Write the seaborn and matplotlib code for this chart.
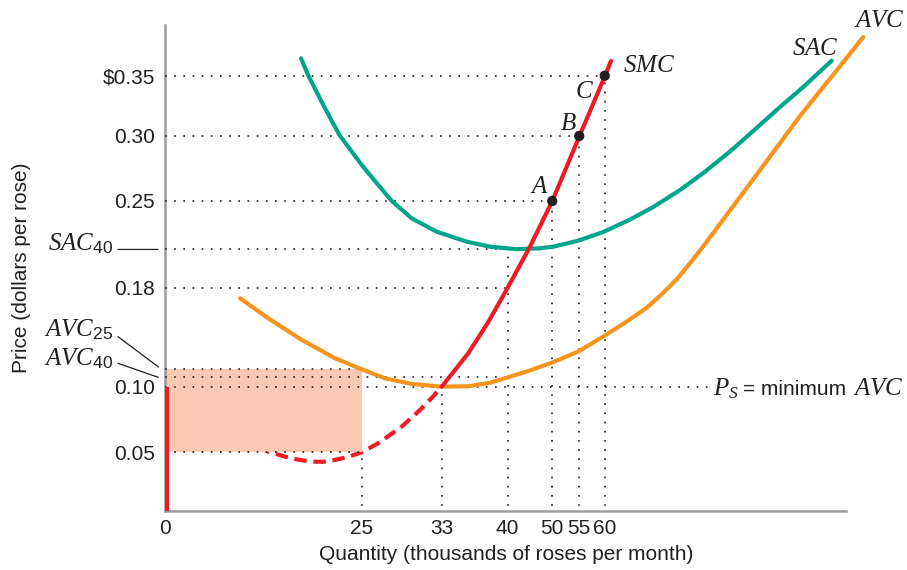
import matplotlib
matplotlib.use("Agg")
import matplotlib.pyplot as plt
import matplotlib.transforms as mtransforms
import seaborn as sns

# axis ticks (the textbook axis is stylized, so positions and labels differ)
q_pos = [0, 25.18, 35.4, 43.8, 49.5, 52.95, 56.2]
q_labels = ["0", "25", "33", "40", "50", "55", "60"]
p_pos = [0.05, 0.1023, 0.1809, 0.2502, 0.302, 0.35]
p_labels = ["0.05", "0.10", "0.18", "0.25", "0.30", r"\$0.35"]

# short-run average cost
sac_q = [17.43, 18.36, 20.27, 22.32, 25.18, 27.29, 29.01, 31.56, 34.75, 38.58, 41.55, 44.96,
         47.94, 49.64, 52.83, 56.02, 59.43, 62.40, 65.81, 68.79, 72.19, 75.17, 78.58, 81.55, 85.18]
sac_p = [0.3639, 0.3500, 0.3267, 0.3028, 0.2789, 0.2629, 0.2502, 0.2364, 0.2257, 0.2178, 0.2138, 0.2118,
         0.2125, 0.2138, 0.2186, 0.2255, 0.2354, 0.2454, 0.2589, 0.2725, 0.2896, 0.3060, 0.3251, 0.3410, 0.3620]

# average variable cost
avc_q = [9.64, 13.25, 17.52, 21.77, 25.18, 28.15, 31.56, 35.39, 38.78, 41.55, 43.85, 46.66, 49.34,
         52.79, 55.98, 58.79, 61.60, 63.51, 65.43, 67.22, 69.00, 72.62, 76.88, 81.13, 85.34, 89.21]
avc_p = [0.1727, 0.1567, 0.1395, 0.1249, 0.1161, 0.1089, 0.1044, 0.1023, 0.1026, 0.1054, 0.1097, 0.1152, 0.1211,
         0.1301, 0.1421, 0.1532, 0.1653, 0.1761, 0.1880, 0.2016, 0.2159, 0.2462, 0.2820, 0.3179, 0.3506, 0.3808]

# short-run marginal cost, below and above minimum AVC
smc_lo_q = [11.94, 13.25, 15.38, 17.04, 18.79, 20.24, 21.77, 23.43, 25.18, 27.29, 30.28, 32.84, 34.28, 35.39]
smc_lo_p = [0.0542, 0.0505, 0.0465, 0.0441, 0.0425, 0.0424, 0.0439, 0.0463, 0.0500, 0.0572, 0.0704, 0.0850, 0.0944, 0.1023]
smc_hi_q = [35.39, 37.09, 38.78, 41.34, 43.79, 46.66, 49.51, 52.96, 56.24, 57.00]
smc_hi_p = [0.1023, 0.1156, 0.1289, 0.1538, 0.1809, 0.2138, 0.2502, 0.3017, 0.3500, 0.3617]

# points A, B, C
pts_q = [49.5, 52.95, 56.2]
pts_p = [0.2502, 0.302, 0.35]
pts_names = ["A", "B", "C"]

# key levels
sac40 = 0.2116
avc25 = 0.1161
avc40 = 0.1097
p_s = 0.1023
q_shutdown = 0

# dotted guide lines
h_levels = [0.35, 0.302, 0.2502, sac40, 0.1809, avc25, avc40, p_s, 0.05]
h_ends = [56.2, 52.95, 49.5, 43.8, 43.8, 25.18, 43.8, 69.4, 25.18]
v_q = [25.18, 35.4, 43.8, 49.5, 52.95, 56.2]
v_tops = [0.05, p_s, sac40, 0.2502, 0.302, 0.35]

teal = "#00A68C"
orange = "#F7941D"
red = "#ED1C24"
shade = "#FAC8B2"
ink = "#231F20"

sns.set_style("white")
plt.rcParams["font.family"] = ["Liberation Sans", "DejaVu Sans"]
plt.rcParams["mathtext.fontset"] = "custom"
plt.rcParams["mathtext.it"] = "Liberation Serif:italic"
plt.rcParams["mathtext.rm"] = "Liberation Sans"

fig = plt.figure(figsize=(9.07, 5.70), dpi=100)
ax = fig.add_axes([0.1814, 0.1035, 0.7513, 0.8526])
ax.set_xlim(0, 87.0)
ax.set_ylim(0.0032, 0.3904)

# shaded area (loss) and guide lines
ax.fill_between([0, q_pos[1]], 0.05, avc25, color=shade, lw=0, zorder=2)
dots = (0, (1, 4.5))
ax.hlines(h_levels, 0, h_ends, colors=ink, linestyles=[dots], lw=1.2, zorder=3)
ax.vlines(v_q, 0, v_tops, colors=ink, linestyles=[dots], lw=1.2, zorder=3)

# curves
sns.lineplot(x=smc_lo_q, y=smc_lo_p, ax=ax, color=red, lw=3, dashes=(3, 1.6),
             sort=False, estimator=None, zorder=1.5)
sns.lineplot(x=sac_q, y=sac_p, ax=ax, color=teal, lw=3, sort=False, estimator=None, zorder=4)
sns.lineplot(x=avc_q, y=avc_p, ax=ax, color=orange, lw=3, sort=False, estimator=None,
             zorder=4, clip_on=False)
sns.lineplot(x=smc_hi_q, y=smc_hi_p, ax=ax, color=red, lw=3, sort=False, estimator=None, zorder=4.5)
for line in ax.get_lines():
    line.set_solid_joinstyle("round")
shift = mtransforms.offset_copy(ax.transData, fig=fig, x=2.5, y=0, units="dots")
ax.vlines(q_shutdown, 0, p_s, colors=red, lw=3, transform=shift, zorder=4.5)
sns.scatterplot(x=pts_q, y=pts_p, ax=ax, color=ink, s=55, edgecolor="none", zorder=5)

# curve labels
lab = dict(textcoords="offset pixels", va="baseline", fontsize=18, color=ink,
           annotation_clip=False)
for name, q, p, dx, dy in zip(pts_names, pts_q, pts_p, [-13, -11, -20], [8, 6.3, -22.6]):
    ax.annotate(f"${name}$", xy=(q, p), xytext=(dx, dy), ha="center", **lab)
ax.annotate("$SMC$", xy=(smc_hi_q[-1], smc_hi_p[-1]), xytext=(12, -11), ha="left", **lab)
ax.annotate("$SAC$", xy=(sac_q[-1], sac_p[-1]), xytext=(-16, 5.5), ha="center", **lab)
ax.annotate("$AVC$", xy=(avc_q[-1], avc_p[-1]), xytext=(16, 10), ha="center", **lab)
ax.annotate("$P_S$", xy=(h_ends[7], p_s), xytext=(5, -8.3), ha="left", **lab)
ax.annotate("= minimum", xy=(h_ends[7], p_s), xytext=(35, -8.3), ha="left",
            textcoords="offset pixels", va="baseline", fontsize=15, color=ink,
            annotation_clip=False)
ax.annotate("$AVC$", xy=(h_ends[7], p_s), xytext=(145, -8.3), ha="left", **lab)

# labels left of the price axis, with leader lines
def leader(level, x0, y0, x1, y1):
    ax.annotate("", xy=(0, level),
                xycoords=mtransforms.offset_copy(ax.transData, fig=fig, x=x1, y=y1, units="dots"),
                xytext=(0, level),
                textcoords=mtransforms.offset_copy(ax.transData, fig=fig, x=x0, y=y0, units="dots"),
                arrowprops=dict(arrowstyle="-", color=ink, lw=0.9, shrinkA=0, shrinkB=0),
                annotation_clip=False)

ax.annotate("$SAC_{40}$", xy=(0, sac40), xytext=(-51.5, -1), ha="right", **lab)
leader(sac40, -46.5, 0, -6.5, 0)
ax.annotate("$AVC_{25}$", xy=(0, avc25), xytext=(-51.5, 32.6), ha="right", **lab)
leader(avc25, -46.5, 32.6, -6, 2.3)
ax.annotate("$AVC_{40}$", xy=(0, avc40), xytext=(-51.5, 12.3), ha="right", **lab)
leader(avc40, -46.5, 14, -6.2, 0)

# axes styling
ax.set_xticks(q_pos, q_labels)
ax.set_yticks(p_pos, p_labels)
ax.tick_params(axis="both", length=0, labelsize=15, colors=ink)
ax.tick_params(axis="x", pad=5.5)
ax.tick_params(axis="y", pad=7)
for side in ["top", "right"]:
    ax.spines[side].set_visible(False)
for side in ["left", "bottom"]:
    ax.spines[side].set_color("#9B9B9B")
    ax.spines[side].set_linewidth(1.8)
ax.set_xlabel("Quantity (thousands of roses per month)", fontsize=15, color=ink, va="top")
ax.set_ylabel("Price (dollars per rose)", fontsize=15, color=ink)
ax.xaxis.set_label_coords(0.502, -0.07)
ax.yaxis.set_label_coords(-0.196, 0.5)

fig.savefig("out.png", dpi=100)
